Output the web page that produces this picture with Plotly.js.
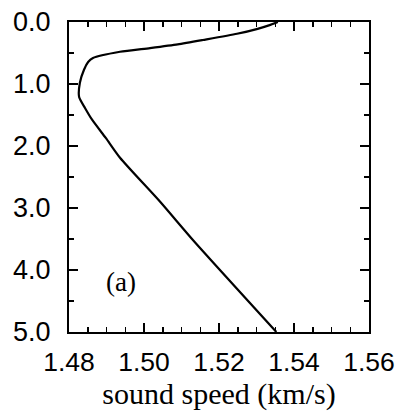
<!DOCTYPE html>
<html>
<head>
<meta charset="utf-8">
<script src="https://cdn.plot.ly/plotly-3.0.1.min.js"></script>
<style>html,body{margin:0;padding:0;background:#fff;}#chart{width:398px;height:412px;}</style>
</head>
<body>
<div id="chart"></div>
<script>
// depth (km) and sound speed (km/s)
const depth = [0, 0.05, 0.11, 0.19, 0.29, 0.36, 0.42, 0.48, 0.58, 0.645, 0.77, 0.98, 1.21, 1.39, 1.58, 1.87, 2.19, 2.90, 3.52, 5.0];
const speed = [1.5357, 1.5335, 1.5303, 1.5248, 1.5157, 1.5090, 1.5016, 1.4936, 1.4864, 1.4851, 1.4840, 1.4829, 1.4827, 1.4843, 1.4862, 1.4898, 1.4936, 1.5043, 1.5131, 1.5353];
const xTicks = [1.48, 1.50, 1.52, 1.54, 1.56];
const yTicks = [0, 1, 2, 3, 4, 5];
const panelLabel = "(a)";
const xTitle = "sound speed (km/s)";

const trace = {
  x: speed, y: depth, type: 'scatter', mode: 'lines',
  line: {color: '#000', width: 2.2, shape: 'spline', smoothing: 0.6},
  hoverinfo: 'skip'
};

const layout = {
  width: 398, height: 412,
  margin: {l: 69, r: 29, t: 22, b: 80},
  paper_bgcolor: '#fff', plot_bgcolor: '#fff',
  showlegend: false,
  xaxis: {
    range: [1.48, 1.56], tickvals: xTicks, ticktext: xTicks.map(v => v.toFixed(2)),
    ticks: 'inside', ticklen: 9, tickwidth: 2, tickcolor: '#000',
    minor: {dtick: 0.005, ticks: 'inside', ticklen: 5, tickwidth: 1.5, tickcolor: '#000'},
    showline: true, linecolor: '#000', linewidth: 2, mirror: 'ticks',
    showgrid: false, zeroline: false,
    tickfont: {family: 'Liberation Sans, Arial, sans-serif', size: 26.5, color: '#000'},
    ticklabelstandoff: 5,
    title: {text: xTitle, font: {family: 'Liberation Serif, Times New Roman, serif', size: 30, color: '#000'}, standoff: 4}
  },
  yaxis: {
    range: [5, 0], tickvals: yTicks, ticktext: yTicks.map(v => v.toFixed(1)),
    ticks: 'inside', ticklen: 9, tickwidth: 2, tickcolor: '#000',
    minor: {dtick: 0.5, ticks: 'inside', ticklen: 5, tickwidth: 1.5, tickcolor: '#000'},
    showline: true, linecolor: '#000', linewidth: 2, mirror: 'ticks',
    showgrid: false, zeroline: false,
    tickfont: {family: 'Liberation Sans, Arial, sans-serif', size: 27, color: '#000'},
    ticklabelstandoff: 11
  },
  annotations: [{
    x: 1.4939, y: 4.19, xref: 'x', yref: 'y', text: panelLabel, showarrow: false,
    font: {family: 'Liberation Serif, Times New Roman, serif', size: 27, color: '#000'}
  }]
};

Plotly.newPlot('chart', [trace], layout, {displayModeBar: false, staticPlot: true});
</script>
</body>
</html>
